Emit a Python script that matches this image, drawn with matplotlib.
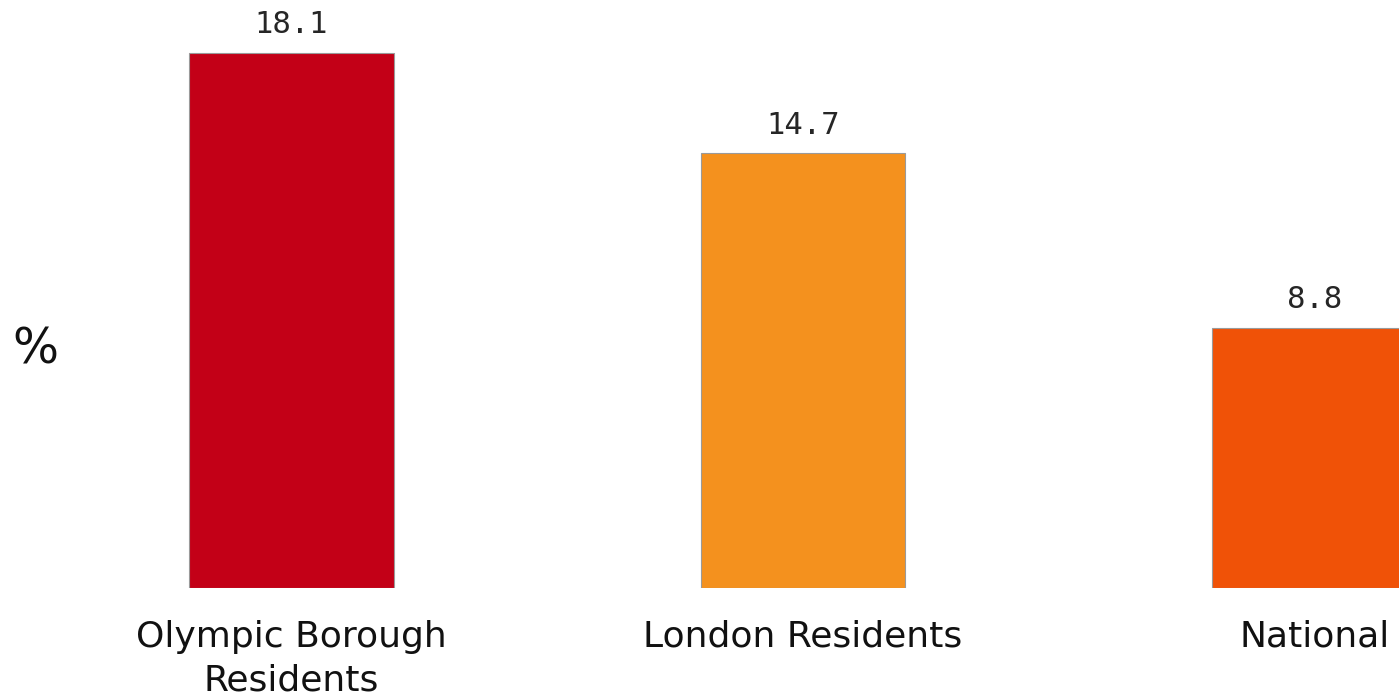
import matplotlib
matplotlib.use("Agg")
import matplotlib.pyplot as plt

categories = ["Olympic Borough\nResidents", "London Residents", "National"]
values = [18.1, 14.7, 8.8]
colors = ["#C30017", "#F4911E", "#F05207"]

W, H = 1399, 699
fig = plt.figure(figsize=(W / 100, H / 100), dpi=100)
fig.patch.set_facecolor("white")

# axes span the full width; baseline sits 111 px above the bottom edge
ax = fig.add_axes([0, 111 / H, 1, 1 - 111 / H])
ax.set_xlim(-0.570, 2.165)
ax.set_ylim(0, 19.89)
ax.axis("off")

x = range(len(values))
bars = ax.bar(x, values, width=0.40, color=colors, edgecolor="#9a9a9a", linewidth=0.8)

for xi, v in zip(x, values):
    ax.annotate(f"{v}", (xi, v), xytext=(0, 10), textcoords="offset points",
                ha="center", va="bottom", fontsize=22, family="DejaVu Sans Mono",
                color="#262626")

for xi, lab in zip(x, categories):
    ax.annotate(lab, (xi, 0), xytext=(0, -23), textcoords="offset points",
                ha="center", va="top", fontsize=26, family="DejaVu Sans",
                color="#111111", linespacing=1.35)

fig.text(35 / W, 1 - 349 / H, "%", ha="center", va="center", fontsize=35,
         family="DejaVu Sans", color="#111111")

fig.savefig("out.png", dpi=100)
